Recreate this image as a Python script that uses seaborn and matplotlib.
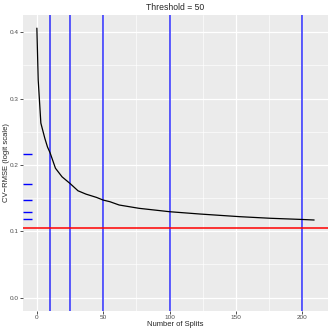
import numpy as np
import pandas as pd
import seaborn as sns
import matplotlib.pyplot as plt

# curve
splits = [0, 1, 3, 6, 8, 10, 14, 19, 25, 31, 37, 45, 50, 55, 62, 77, 100, 123, 138, 153, 176, 200, 209]
cv_rmse = [0.406, 0.328, 0.263, 0.240, 0.227, 0.218, 0.195, 0.182, 0.172, 0.161, 0.156, 0.151,
           0.147, 0.1446, 0.1396, 0.1346, 0.1295, 0.126, 0.124, 0.122, 0.1196, 0.1178, 0.117]

# marked split counts and their CV-RMSE
marked_splits = [10, 25, 50, 100, 200]
marked_rmse = [0.216, 0.171, 0.1467, 0.1295, 0.118]
baseline = 0.1045

df = pd.DataFrame({"splits": splits, "rmse": cv_rmse})

sns.set_theme(style="darkgrid", rc={
    "axes.facecolor": "#EBEBEB",
    "grid.color": "white",
    "axes.edgecolor": "#EBEBEB",
    "xtick.bottom": True,
    "ytick.left": True,
    "xtick.color": "#333333",
    "ytick.color": "#333333",
})
plt.rcParams["font.family"] = ["Liberation Sans", "DejaVu Sans"]

fig = plt.figure(figsize=(3.32, 3.32), dpi=100)
ax = fig.add_axes([0.0693, 0.0642, 0.9187, 0.8906])

for v in marked_splits:
    ax.axvline(v, color="blue", lw=1.2, alpha=0.75, zorder=2)
ax.axhline(baseline, color="red", lw=1.1, zorder=2)

sns.lineplot(data=df, x="splits", y="rmse", color="black", lw=0.9, ax=ax, zorder=3)
sns.rugplot(y=marked_rmse, height=0.03, color="blue", lw=1.1, ax=ax, clip_on=False)

ax.set_xlim(-10.45, 219.45)
ax.set_ylim(-0.0196, 0.4258)
ax.set_xticks([0, 50, 100, 150, 200])
ax.set_yticks([0.0, 0.1, 0.2, 0.3, 0.4])
ax.set_yticklabels(["0.0", "0.1", "0.2", "0.3", "0.4"])
ax.set_xticks([25, 75, 125, 175], minor=True)
ax.set_yticks([0.05, 0.15, 0.25, 0.35], minor=True)
ax.grid(True, which="major", color="white", lw=0.9)
ax.grid(True, which="minor", color="white", lw=0.45)
ax.tick_params(which="major", length=2.2, width=0.6, pad=1.2, labelsize=4.6, labelcolor="#4D4D4D")
ax.tick_params(which="minor", length=0)
for s in ax.spines.values():
    s.set_visible(False)

ax.set_xlabel("Number of Splits", fontsize=5.5)
ax.set_ylabel("CV\u2212RMSE (logit scale)", fontsize=5.5)
ax.xaxis.set_label_coords(0.5, -0.048)
ax.yaxis.set_label_coords(-0.055, 0.5)
ax.xaxis.label.set_va("center")
ax.yaxis.label.set_va("center")
ax.set_title("Threshold = 50", fontsize=6.2, pad=3.5)

fig.savefig("out.png", dpi=100)
